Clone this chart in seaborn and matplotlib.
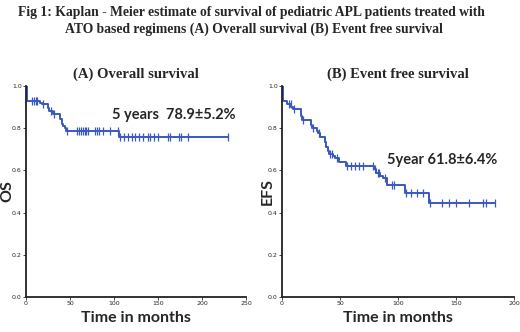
import numpy as np
import pandas as pd
import matplotlib
matplotlib.use("Agg")
import matplotlib.pyplot as plt
import seaborn as sns

# Overall survival: step times (months) and survival after each step
os_time = [0, 1, 16, 18, 25, 26.5, 31, 38.6, 40.5, 42.4, 44.3, 45.5, 105.7, 230]
os_surv = [1.0, 0.93, 0.92, 0.913, 0.895, 0.88, 0.866, 0.842, 0.82, 0.81, 0.80, 0.789, 0.757, 0.757]
os_cens = [6.4, 9.5, 11.4, 12.9, 19.7, 28, 32, 46.2, 58.3, 60.2, 62.5, 64.4, 66.7, 68.2,
           70.1, 78.8, 80.3, 83.3, 87.1, 95.5, 104.9, 106.8, 111.4, 115.5, 120.1, 124.2,
           128.8, 133.3, 138.3, 140.9, 145.5, 150, 161.7, 163.6, 173.9, 175.8, 183.7, 229.9]

# Event free survival
efs_time = [0, 1, 4.6, 8, 9.5, 16.7, 17.5, 25.3, 26, 30, 31, 32.8, 37.4, 38, 39.7, 40.5,
            44, 45.4, 48.9, 54.9, 79.3, 81, 84.8, 87, 90.5, 106.3, 126.7, 184]
efs_surv = [1.0, 0.93, 0.915, 0.90, 0.889, 0.86, 0.839, 0.815, 0.80, 0.785, 0.776, 0.757,
            0.735, 0.713, 0.694, 0.68, 0.67, 0.661, 0.642, 0.621, 0.605, 0.59, 0.575, 0.563,
            0.532, 0.495, 0.445, 0.445]
efs_cens = [6, 7.5, 10.5, 18, 27, 32, 41.7, 43.4, 47.4, 56, 59.8, 62.6, 66.4, 69.8, 78.4,
            80.2, 82.8, 83.6, 88.5, 95, 97, 107.2, 111.5, 116.4, 121.6, 127.9, 138.2, 144,
            150.3, 161.2, 173.3, 175.6, 183.3]

blue = "#3a58c0"
sans = ["Lato", "DejaVu Sans"]
serif = ["Liberation Serif", "DejaVu Serif"]

sns.set_style("ticks")


def km_panel(ax, t, s, cens, xmax, xstep, note, note_xy, ylabel, ylab_x, title):
    df = pd.DataFrame({"t": t, "s": s})
    sns.lineplot(data=df, x="t", y="s", ax=ax, color=blue, lw=1.4,
                 drawstyle="steps-post", estimator=None)
    idx = np.searchsorted(np.array(t), np.array(cens), side="right") - 1
    cdf = pd.DataFrame({"t": cens, "s": np.array(s)[idx]})
    sns.scatterplot(data=cdf, x="t", y="s", ax=ax, marker="|", color=blue,
                    s=28, linewidth=0.9)
    ax.set_xlim(0, xmax)
    ax.set_ylim(0, 1.0)
    ax.set_xticks(np.arange(0, xmax + 1, xstep))
    ax.set_yticks(np.arange(0, 1.01, 0.2))
    ax.set_yticklabels([f"{v:.1f}" for v in np.arange(0, 1.01, 0.2)])
    ax.tick_params(labelsize=4.5, length=2, width=0.6, pad=1)
    for sp in ["left", "bottom"]:
        ax.spines[sp].set_linewidth(1.3)
        ax.spines[sp].set_color("#222222")
    sns.despine(ax=ax)
    ax.set_xlabel("Time in months", family=sans, fontweight="bold", fontsize=11.5, va="center")
    ax.xaxis.set_label_coords(0.5, -0.10)
    ax.set_ylabel(ylabel, family=sans, fontweight="bold", fontsize=11.5, va="center")
    ax.yaxis.set_label_coords(ylab_x, 0.5)
    ax.set_title(title, family=serif, fontweight="bold", fontsize=10.5, pad=6)
    ax.text(note_xy[0], note_xy[1], note, family=sans, fontweight="bold", fontsize=10.5,
            ha="center", va="center")


fig = plt.figure(figsize=(5.2, 3.32), dpi=100)
ax1 = fig.add_axes([0.05, 0.1054, 0.423, 0.6355])
ax2 = fig.add_axes([0.5423, 0.1054, 0.446, 0.6355])

km_panel(ax1, os_time, os_surv, os_cens, 250, 50, "5 years  78.9\u00b15.2%", (168, 0.862),
         "OS", -0.083, "(A) Overall survival")
km_panel(ax2, efs_time, efs_surv, efs_cens, 200, 50, "5year 61.8\u00b16.4%", (138, 0.649),
         "EFS", -0.06, "(B) Event free survival")

fig.text(0.483, 0.963, "Fig 1: Kaplan - Meier estimate of survival of pediatric APL patients treated with",
         family=serif, fontweight="bold", fontsize=9.8, ha="center", va="center")
fig.text(0.488, 0.913, "ATO based regimens (A) Overall survival (B) Event free survival",
         family=serif, fontweight="bold", fontsize=9.8, ha="center", va="center")

fig.savefig("out.png", dpi=100)
